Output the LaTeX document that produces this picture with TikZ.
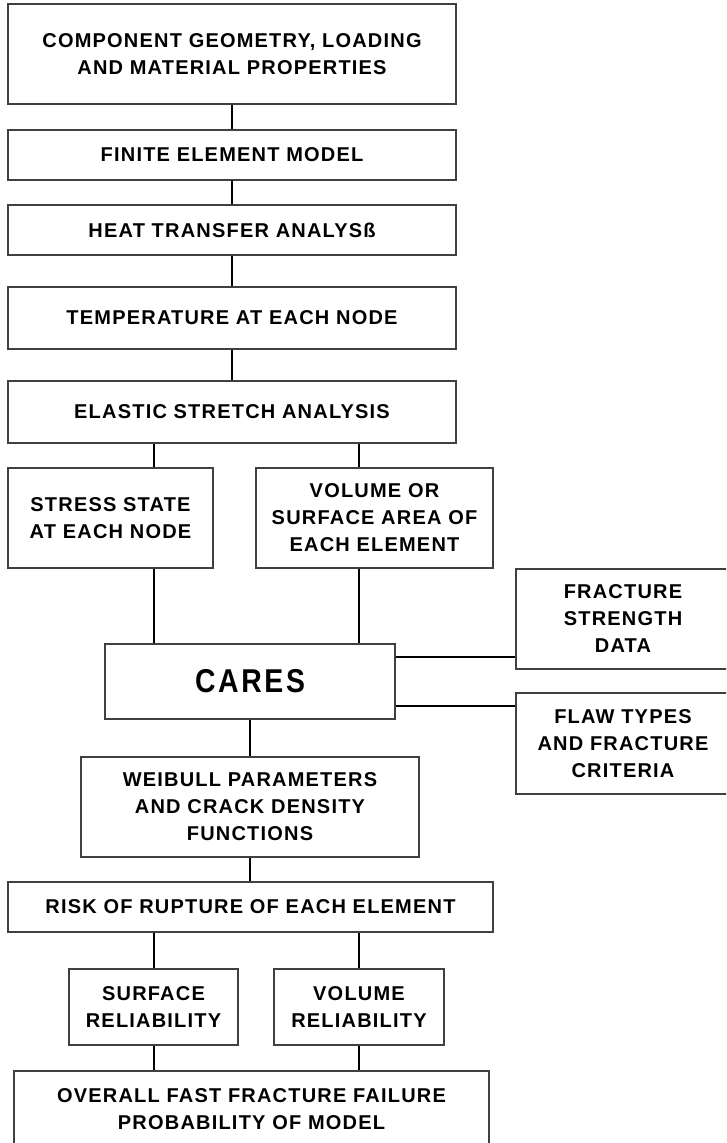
\documentclass[tikz,border=0pt]{standalone}
\usepackage{fontspec}
\setmainfont{Liberation Sans}[LetterSpace=6]
\newfontfamily\caresfont{Liberation Sans}[FakeStretch=0.86, LetterSpace=8]
\begin{document}
\begin{tikzpicture}[x=1pt,y=-1pt,
  box/.style={draw=black!75, line width=1.1pt, align=center, inner sep=0pt, text=black,
    font=\fontsize{20}{27}\selectfont\bfseries},
  link/.style={draw=black, line width=1.1pt}]
\useasboundingbox (0,0) rectangle (726,1143);
\clip (0,0) rectangle (726,1143);
\coordinate (cL) at (154,0);
\coordinate (cR) at (359,0);
\coordinate (fy) at (0,657);
\coordinate (gy) at (0,706);

\node[box, minimum width=448pt, minimum height=100pt] (top) at (232,54) {COMPONENT GEOMETRY, LOADING\\AND MATERIAL PROPERTIES};
\node[box, minimum width=448pt, minimum height=50pt] (fem) at (232,155) {FINITE ELEMENT MODEL};
\node[box, minimum width=448pt, minimum height=50pt] (heat) at (232,230) {HEAT TRANSFER ANALYSß};
\node[box, minimum width=448pt, minimum height=62pt] (temp) at (232,318) {TEMPERATURE AT EACH NODE};
\node[box, minimum width=448pt, minimum height=62pt] (elastic) at (232,412) {ELASTIC STRETCH ANALYSIS};
\node[box, minimum width=205pt, minimum height=100pt] (stress) at (110.5,518) {STRESS STATE\\AT EACH NODE};
\node[box, minimum width=237pt, minimum height=100pt] (volume) at (374.5,518) {VOLUME OR\\SURFACE AREA OF\\EACH ELEMENT};
\node[box, minimum width=214pt, minimum height=100pt] (fracture) at (623,619) {FRACTURE\\STRENGTH\\DATA};
\node[box, minimum width=290pt, minimum height=75pt, font=\caresfont\fontsize{33}{36}\selectfont\bfseries] (cares) at (250,681.5) {CARES};
\node[box, minimum width=214pt, minimum height=101pt] (flaw) at (623,743.5) {FLAW TYPES\\AND FRACTURE\\CRITERIA};
\node[box, minimum width=338pt, minimum height=100pt] (weibull) at (250,807) {WEIBULL PARAMETERS\\AND CRACK DENSITY\\FUNCTIONS};
\node[box, minimum width=485pt, minimum height=50pt] (risk) at (250.5,907) {RISK OF RUPTURE OF EACH ELEMENT};
\node[box, minimum width=169pt, minimum height=76pt] (surface) at (153.5,1007) {SURFACE\\RELIABILITY};
\node[box, minimum width=170pt, minimum height=76pt] (volrel) at (359,1007) {VOLUME\\RELIABILITY};
\node[box, minimum width=475pt, minimum height=77pt] (overall) at (251.5,1109.5) {OVERALL FAST FRACTURE FAILURE\\PROBABILITY OF MODEL};

\draw[link] (top.south) -- (fem.north);
\draw[link] (fem.south) -- (heat.north);
\draw[link] (heat.south) -- (temp.north);
\draw[link] (temp.south) -- (elastic.north);
\draw[link] (elastic.south -| cL) -- (stress.north -| cL);
\draw[link] (elastic.south -| cR) -- (volume.north -| cR);
\draw[link] (stress.south -| cL) -- (cares.north -| cL);
\draw[link] (volume.south -| cR) -- (cares.north -| cR);
\draw[link] (cares.east |- fy) -- (fracture.west |- fy);
\draw[link] (cares.east |- gy) -- (flaw.west |- gy);
\draw[link] (cares.south) -- (weibull.north);
\draw[link] (weibull.south) -- (risk.north -| weibull.south);
\draw[link] (risk.south -| cL) -- (surface.north -| cL);
\draw[link] (risk.south -| cR) -- (volrel.north -| cR);
\draw[link] (surface.south -| cL) -- (overall.north -| cL);
\draw[link] (volrel.south -| cR) -- (overall.north -| cR);
\end{tikzpicture}
\end{document}
